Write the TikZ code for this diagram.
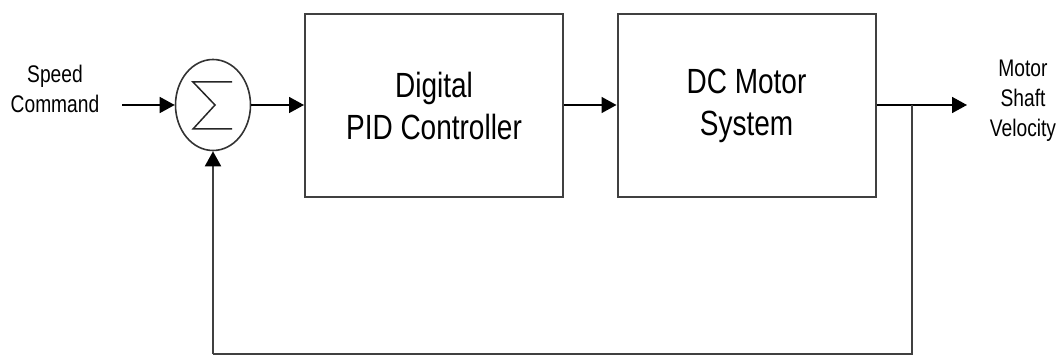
\documentclass[tikz,border=0pt]{standalone}
\usepackage{fontspec}
\setmainfont{Liberation Sans}[FakeStretch=0.8]
\usetikzlibrary{arrows.meta,shapes.geometric}

\tikzset{
	block/.style={draw=black!75, line width=2pt, minimum width=258pt, minimum height=183pt, align=center, font=\fontsize{35}{42}\selectfont},
	sumnode/.style={ellipse, draw=black!80, line width=1.6pt, minimum width=75pt, minimum height=91pt},
	lbl/.style={align=center, font=\fontsize{24}{30}\selectfont},
	arr/.style={line width=1.6pt, -{Triangle[length=15pt,width=16pt,color=black]}},
	wire/.style={draw=black!75, line width=2pt}
}

\begin{document}
\begin{tikzpicture}[x=1pt, y=1pt]
	\useasboundingbox (0, 0) rectangle (1062, 356);

	\node[sumnode] (sum) at (213, 251) {};
	\draw[line width=1.5pt, black!85] ([shift={(19, 23)}]sum.center) -- ([shift={(-20, 23)}]sum.center)
		-- ([shift={(2, 0)}]sum.center) -- ([shift={(-20, -24)}]sum.center) -- ([shift={(19, -24)}]sum.center);

	\node[block] (pid) at (434, 250.5) {Digital\\PID Controller};
	\node[block] (motor) at (746.5, 250.5) {DC Motor\\System};

	\node[lbl, anchor=center] (cmd) at (55, 267) {Speed\\Command};
	\node[lbl, anchor=center] (vel) at (1023, 255) {Motor\\Shaft\\Velocity};

	\coordinate (in) at (122, 251);
	\coordinate (out) at (967, 251);
	\coordinate (tap) at (912, 251);
	\coordinate (low) at (912, 2);

	\draw[arr] (in) -- (sum.west);
	\draw[arr] (sum.east) -- (pid.west |- sum.east);
	\draw[arr] (pid.east |- sum.east) -- (motor.west |- sum.east);
	\draw[arr] (motor.east |- sum.east) -- (out);
	\draw[wire] (tap) -- (low) -- (low -| sum.south);
	\draw[arr, line width=2pt, black!75] (low -| sum.south) -- (sum.south);
\end{tikzpicture}
\end{document}
